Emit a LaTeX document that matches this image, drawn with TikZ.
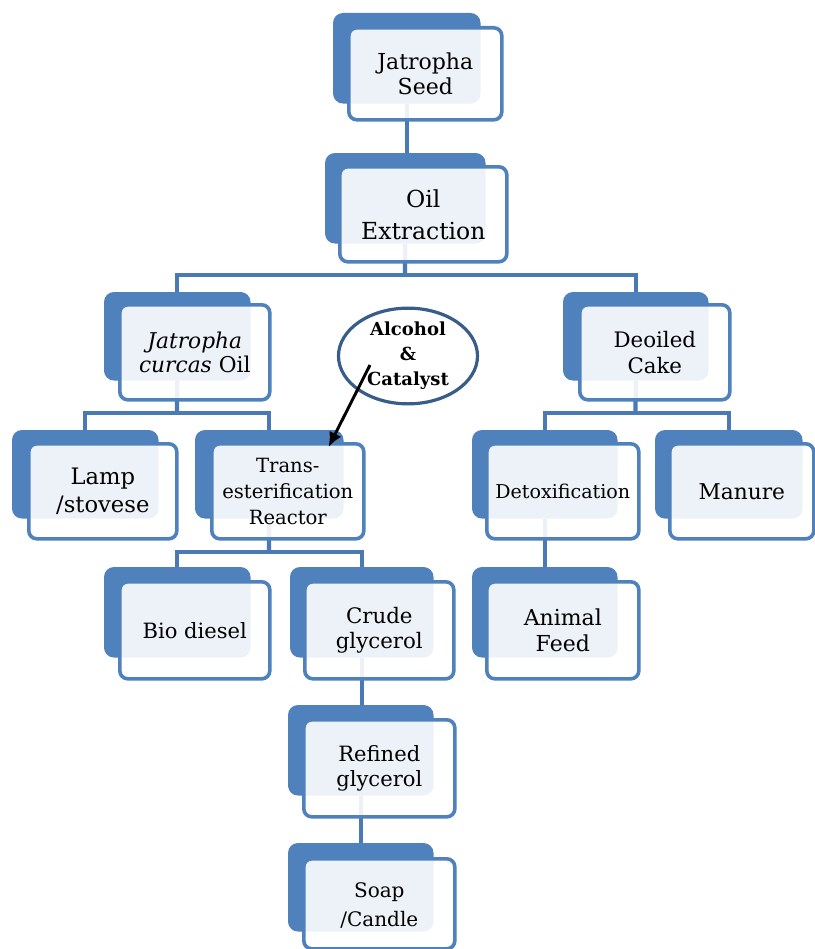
\documentclass[tikz,border=0pt]{standalone}
\usepackage{fontspec}
\setmainfont{DejaVu Serif}
\usetikzlibrary{arrows.meta,calc,shapes.geometric}
\definecolor{sablue}{RGB}{79,129,189}
\definecolor{connblue}{RGB}{74,122,182}
\definecolor{elblue}{RGB}{56,93,138}
\begin{document}
\begin{tikzpicture}[x=0.75pt,y=-0.75pt,
  backbox/.style={draw=none, fill=none, anchor=north west, inner sep=0pt},
  frontbox/.style={draw=sablue, line width=2.7pt, fill=white, fill opacity=0.9, text opacity=1,
    rounded corners=6pt, anchor=north west, inner sep=0pt, align=center, text=black},
  conn/.style={draw=connblue, line width=3.2pt},
  arrowline/.style={draw=black, line width=2.2pt, -{Latex[length=11pt,width=10pt]}},
  bsize/.style 2 args={minimum width=#1*0.75pt, minimum height=#2*0.75pt},
  fs/.style 2 args={font=\fontsize{#1}{#2}\selectfont}]
\fill[white] (0,0) rectangle (814,949);
\useasboundingbox (0,0) rectangle (814,949);

% back boxes (positions; filled after connectors)
\path
  node[backbox, bsize={147}{90}] (bseed) at (333,13) {}
  node[backbox, bsize={160}{90}] (boil) at (325,153) {}
  node[backbox, bsize={146}{88}] (bjco) at (104,292) {}
  node[backbox, bsize={145}{88}] (bcake) at (563,292) {}
  node[backbox, bsize={146}{88}] (blamp) at (12,430) {}
  node[backbox, bsize={148}{88}] (btrans) at (195,430) {}
  node[backbox, bsize={145}{88}] (bdetox) at (472,430) {}
  node[backbox, bsize={147}{88}] (bmanure) at (655,430) {}
  node[backbox, bsize={146}{90}] (bbio) at (104,567) {}
  node[backbox, bsize={143}{90}] (bcrude) at (290,567) {}
  node[backbox, bsize={145}{90}] (banimal) at (472,567) {}
  node[backbox, bsize={145}{90}] (brefined) at (288,705) {}
  node[backbox, bsize={145}{88}] (bsoap) at (288,843) {};

% junction coordinates
\coordinate (joil) at (405,275);
\coordinate (jjco) at (177,413);
\coordinate (jcake) at (635.5,413);
\coordinate (jtrans) at (269,552);

% connectors
\draw[conn] (bseed.south) -- (bseed.south |- boil.north);
\draw[conn] (boil.south) -- (joil);
\draw[conn] (bjco.north) |- (joil) -| (bcake.north);
\draw[conn] (bjco.south) -- (jjco);
\draw[conn] (blamp.north) |- (jjco) -| (btrans.north);
\draw[conn] (bcake.south) -- (jcake);
\draw[conn] (bdetox.north) |- (jcake) -| (bmanure.north);
\draw[conn] (btrans.south) -- (jtrans);
\draw[conn] (bbio.north) |- (jtrans) -| (bcrude.north);
\draw[conn] (bdetox.south) -- (banimal.north);
\draw[conn] (bcrude.south) -- (bcrude.south |- brefined.north);
\draw[conn] (brefined.south) -- (brefined.south |- bsoap.north);

% back box fills
\foreach \b in {bseed,boil,bjco,bcake,blamp,btrans,bdetox,bmanure,bbio,bcrude,banimal,brefined,bsoap}
  \fill[sablue, rounded corners=7.5pt] (\b.north west) rectangle (\b.south east);

% front boxes
\node[frontbox, bsize={153}{92}, fs={16.5}{19}] (fseed) at (347,26) {Jatropha\\Seed};
\node[frontbox, bsize={167}{95}, fs={17.6}{24}] (foil) at (338,165) {Oil\\Extraction};
\node[frontbox, bsize={150}{95}, fs={16.3}{18.5}] (fjco) at (118,303) {{\itshape Jatropha}\\{\itshape curcas} Oil};
\node[frontbox, bsize={150}{95}, fs={16}{19.5}] (fcake) at (578,303) {Deoiled\\Cake};
\node[frontbox, bsize={148}{95}, fs={17}{21}] (flamp) at (27,442) {Lamp\\/stovese};
\node[frontbox, bsize={152}{95}, fs={14.7}{19.5}] (ftrans) at (210,442) {Trans-\\esterification\\Reactor};
\node[frontbox, bsize={152}{95}, fs={14.3}{17}] (fdetox) at (485,442) {Detoxification};
\node[frontbox, bsize={144}{95}, fs={16.3}{19}] (fmanure) at (668,442) {Manure};
\node[frontbox, bsize={150}{97}, fs={15.8}{19}] (fbio) at (118,580) {Bio diesel};
\node[frontbox, bsize={149}{97}, fs={16}{19}] (fcrude) at (303,580) {Crude\\glycerol};
\node[frontbox, bsize={152}{97}, fs={16.5}{19}] (fanimal) at (485,580) {Animal\\Feed};
\node[frontbox, bsize={151}{97}, fs={15.8}{19}] (frefined) at (302,718) {Refined\\glycerol};
\node[frontbox, bsize={151}{90}, fs={15}{22}] (fsoap) at (302,857) {\rule{0pt}{14pt}Soap\\/Candle};

% ellipse
\node[ellipse, draw=elblue, line width=2.4pt, fill=white, bsize={139}{88}, inner sep=0pt,
  align=center, fs={13.5}{18.75}] (ell) at (408,356) {\bfseries Alcohol\\\bfseries \&\\\bfseries Catalyst};
\coordinate (arrS) at ($(ell.center)+(-38,9)$);
\coordinate (arrE) at ($(ftrans.north east)+(-37,5)$);
\draw[arrowline] (arrS) -- (arrE);
\end{tikzpicture}
\end{document}
